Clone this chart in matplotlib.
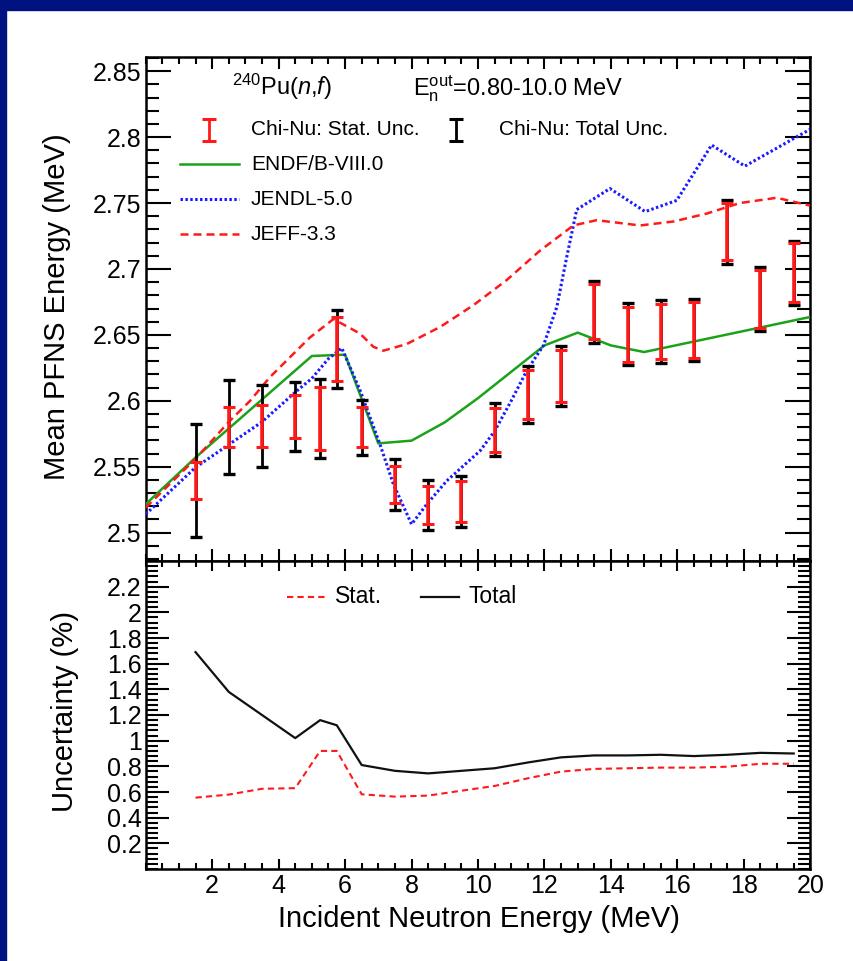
import matplotlib
matplotlib.use('Agg')
import matplotlib.pyplot as plt
from matplotlib.ticker import MultipleLocator, FixedLocator
from matplotlib.patches import Rectangle
import numpy as np

plt.rcParams['font.family'] = ['Liberation Sans', 'DejaVu Sans']
plt.rcParams['mathtext.fontset'] = 'custom'
plt.rcParams['mathtext.rm'] = 'Liberation Sans'
plt.rcParams['mathtext.it'] = 'Liberation Sans:italic'
plt.rcParams['mathtext.bf'] = 'Liberation Sans:bold'

# ---------------- data ----------------
energy = [1.5, 2.5, 3.5, 4.5, 5.25, 5.75, 6.5, 7.5, 8.5, 9.5,
          10.5, 11.5, 12.5, 13.5, 14.5, 15.5, 16.5, 17.5, 18.5, 19.5]
mean_pfns = [2.5396, 2.580, 2.581, 2.588, 2.5865, 2.639, 2.580, 2.5365, 2.521, 2.5235,
             2.578, 2.605, 2.619, 2.6676, 2.6505, 2.6526, 2.6537, 2.7284, 2.6775, 2.6973]
stat_unc_pct = [0.556, 0.58, 0.625, 0.63, 0.92, 0.92, 0.582, 0.564, 0.572, 0.61,
                0.647, 0.707, 0.759, 0.78, 0.785, 0.79, 0.79, 0.797, 0.82, 0.82]
total_unc_pct = [1.69, 1.38, 1.20, 1.02, 1.16, 1.12, 0.81, 0.765, 0.745, 0.765,
                 0.785, 0.83, 0.87, 0.885, 0.885, 0.89, 0.88, 0.89, 0.905, 0.90]

endf_e = [0.0, 1.5, 5.0, 6.0, 7.0, 8.0, 9.0, 10.0, 11.0, 12.0, 13.0, 14.0, 15.0, 20.0]
endf_v = [2.5216, 2.557, 2.634, 2.635, 2.5677, 2.5698, 2.5837, 2.602, 2.622, 2.642,
          2.6517, 2.642, 2.637, 2.6636]

jendl_e = [0.0, 1.5, 3.5, 4.5, 5.0, 5.5, 5.9, 6.45, 7.05, 7.45, 8.0, 8.46, 9.06, 10.06,
           10.5, 11.0, 11.47, 11.97, 12.37, 12.67, 12.97, 13.97, 15.03, 15.98, 17.03, 18.03, 20.0]
jendl_v = [2.514, 2.5495, 2.584, 2.6065, 2.617, 2.632, 2.640, 2.608, 2.567, 2.537, 2.5064,
           2.5216, 2.5393, 2.562, 2.577, 2.600, 2.623, 2.642, 2.671, 2.709, 2.745, 2.761,
           2.7435, 2.752, 2.794, 2.778, 2.806]

jeff_e = [0.0, 1.5, 2.5, 3.14, 3.74, 4.34, 4.94, 5.65, 6.45, 6.85, 7.15, 7.85, 8.86, 9.86,
          10.86, 11.87, 12.87, 13.57, 14.88, 15.88, 16.88, 17.88, 18.99, 20.0]
jeff_v = [2.519, 2.556, 2.584, 2.600, 2.618, 2.633, 2.648, 2.662, 2.651, 2.641, 2.638,
          2.643, 2.656, 2.6725, 2.6915, 2.714, 2.733, 2.737, 2.733, 2.736, 2.742, 2.750,
          2.754, 2.748]

top_yticks = [2.5, 2.55, 2.6, 2.65, 2.7, 2.75, 2.8, 2.85]
top_yticklabels = ['2.5', '2.55', '2.6', '2.65', '2.7', '2.75', '2.8', '2.85']
bot_yticks = [0.2, 0.4, 0.6, 0.8, 1.0, 1.2, 1.4, 1.6, 1.8, 2.0, 2.2]
bot_yticklabels = ['0.2', '0.4', '0.6', '0.8', '1', '1.2', '1.4', '1.6', '1.8', '2', '2.2']
xticks = [2, 4, 6, 8, 10, 12, 14, 16, 18, 20]
xticklabels = ['2', '4', '6', '8', '10', '12', '14', '16', '18', '20']

# ---------------- figure ----------------
W, H = 854, 961
fig = plt.figure(figsize=(W / 100, H / 100), dpi=100)
fig.patch.set_facecolor('white')

L = 145.7 / W
AW = 664.6 / W
ax1 = fig.add_axes([L, 1 - 561 / H, AW, (561 - 56.7) / H])
ax2 = fig.add_axes([L, 1 - 869 / H, AW, (869 - 561) / H])

navy = '#001280'
fig.add_artist(Rectangle((0, 1 - 10 / H), 1, 10 / H, transform=fig.transFigure,
                         color=navy, zorder=10))
fig.add_artist(Rectangle((0, 0), 6 / W, 1, transform=fig.transFigure,
                         color=navy, zorder=10))

E = np.array(energy)
M = np.array(mean_pfns)
stat_abs = M * np.array(stat_unc_pct) / 100
tot_abs = M * np.array(total_unc_pct) / 100

green = '#1aa31a'
blue = '#1a1aff'
red = '#ff1a1a'

ax1.plot(endf_e, endf_v, color=green, lw=1.8, zorder=3)
ax1.plot(jendl_e, jendl_v, color=blue, lw=2.2, linestyle=(0, (0.8, 0.8)), zorder=3)
ax1.plot(jeff_e, jeff_v, color=red, lw=1.8, linestyle=(0, (3.2, 2.0)), zorder=3)

ax1.errorbar(E, M, yerr=tot_abs, fmt='none', ecolor='black', elinewidth=2.0,
             capsize=4.5, capthick=2.4, zorder=4)
ax1.errorbar(E, M, yerr=stat_abs, fmt='none', ecolor=red, elinewidth=2.6,
             capsize=4.0, capthick=2.2, zorder=5)

ax1.set_xlim(0, 20)
ax1.set_ylim(2.4785, 2.861)

ax2.plot(E, stat_unc_pct, color=red, lw=1.5, linestyle=(0, (3.0, 2.0)))
ax2.plot(E, total_unc_pct, color='#111111', lw=1.6)
ax2.set_xlim(0, 20)
ax2.set_ylim(0, 2.4)

for ax in (ax1, ax2):
    for s in ax.spines.values():
        s.set_linewidth(1.8)
    ax.tick_params(which='both', direction='in', top=True, right=True, width=1.5,
                   labelsize=18, colors='black')
    ax.xaxis.set_major_locator(FixedLocator(xticks))
    ax.xaxis.set_minor_locator(MultipleLocator(0.5))

ax1.tick_params(axis='y', which='major', length=18, pad=3)
ax1.tick_params(axis='y', which='minor', length=9.4)
ax1.tick_params(axis='x', which='major', length=8.8)
ax1.tick_params(axis='x', which='minor', length=5)
ax1.set_yticks(top_yticks)
ax1.set_yticklabels(top_yticklabels)
ax1.yaxis.set_minor_locator(MultipleLocator(0.01))
ax1.set_xticklabels([])

ax2.tick_params(axis='y', which='major', length=16.5, pad=3)
ax2.tick_params(axis='y', which='minor', length=8.6)
ax2.tick_params(axis='x', which='major', length=7.5, pad=3.6)
ax2.tick_params(axis='x', which='minor', length=4.5)
ax2.set_yticks(bot_yticks)
ax2.set_yticklabels(bot_yticklabels)
ax2.yaxis.set_minor_locator(MultipleLocator(0.04))
ax2.set_xticklabels(xticklabels)

# ---------------- labels ----------------
fig.text(57 / W, 1 - 307 / H, 'Mean PFNS Energy (MeV)', rotation=90,
         ha='center', va='center', fontsize=21)
fig.text(65 / W, 1 - 712 / H, 'Uncertainty (%)', rotation=90,
         ha='center', va='center', fontsize=21)
fig.text(479 / W, 1 - 919 / H, 'Incident Neutron Energy (MeV)',
         ha='center', va='center', fontsize=21)

# ---------------- top legend / title ----------------
t1 = ax1.transAxes
ax1.text(0.1294, 0.9237, r'$^{240}$Pu($n$,$f$)', transform=t1, fontsize=17,
         ha='left', va='baseline')
ax1.text(0.4017, 0.9237, r'E$_{\mathrm{n}}^{\mathrm{out}}$=0.80-10.0 MeV', transform=t1,
         fontsize=17, ha='left', va='baseline')

def ibeam(ax, x, y, h, color, lw):
    ax.plot([x, x], [y - h, y + h], transform=ax.transAxes, color=color, lw=lw,
            clip_on=False, solid_capstyle='butt')
    ax.plot([x, x], [y - h, y + h], transform=ax.transAxes, ls='none', marker='_',
            ms=9.5, mew=2.2, color=color, clip_on=False)

ibeam(ax1, 0.0953, 0.8547, 0.0218, red, 2.0)
ibeam(ax1, 0.467, 0.8547, 0.0218, 'black', 2.0)
ax1.text(0.1584, 0.8547, 'Chi-Nu: Stat. Unc.', transform=t1, fontsize=15,
         ha='left', va='center')
ax1.text(0.532, 0.8547, 'Chi-Nu: Total Unc.', transform=t1, fontsize=15,
         ha='left', va='center')

legend_rows = [(0.7866, green, '-', 1.8, 'ENDF/B-VIII.0'),
               (0.7172, blue, (0, (0.8, 0.8)), 2.2, 'JENDL-5.0'),
               (0.6484, red, (0, (3.2, 2.0)), 1.8, 'JEFF-3.3')]
for y, c, ls, lw, lab in legend_rows:
    ax1.plot([0.0516, 0.1404], [y, y], transform=t1, color=c, ls=ls, lw=lw)
    ax1.text(0.1584, y, lab, transform=t1, fontsize=15, ha='left', va='center')

# ---------------- bottom legend ----------------
t2 = ax2.transAxes
ax2.plot([0.2128, 0.2728], [0.884, 0.884], transform=t2, color=red, lw=1.5,
         ls=(0, (3.0, 2.0)))
ax2.text(0.2842, 0.884, 'Stat.', transform=t2, fontsize=16.5, ha='left', va='center')
ax2.plot([0.4139, 0.4717], [0.884, 0.884], transform=t2, color='#111111', lw=1.6)
ax2.text(0.4859, 0.884, 'Total', transform=t2, fontsize=16.5, ha='left', va='center')

fig.savefig('out.png', dpi=100)
